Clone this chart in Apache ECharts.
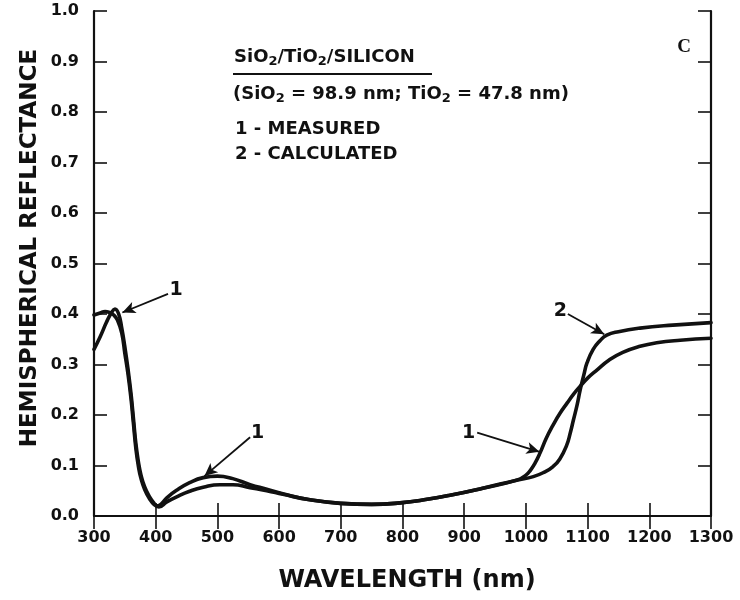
<!DOCTYPE html>
<html>
<head>
<meta charset="utf-8">
<script src="https://cdn.jsdelivr.net/npm/echarts@6/dist/echarts.min.js"></script>
<style>
  html, body { margin: 0; padding: 0; background: #fff; }
  #chart { width: 740px; height: 600px; }
</style>
</head>
<body>
<div id="chart"></div>
<script>
// Curve 1: measured hemispherical reflectance (wavelength in nm, reflectance fraction)
const measuredNm = [300, 310, 320, 328, 334, 340, 345, 350, 355, 360, 364, 368, 372, 376, 382, 390, 397, 403,
  410, 418, 434, 455, 477, 500, 525, 553, 580, 606, 650, 700, 750, 796, 840, 877, 930, 985,
  1000, 1007, 1015, 1023, 1033, 1044, 1055, 1067, 1077, 1088, 1100, 1115, 1135, 1157, 1185, 1212, 1250, 1300];
const measuredR = [0.330, 0.355, 0.383, 0.402, 0.410, 0.400, 0.372, 0.335, 0.292, 0.242, 0.192, 0.142, 0.107, 0.082, 0.058, 0.038, 0.026, 0.020,
  0.025, 0.036, 0.051, 0.066, 0.076, 0.079, 0.074, 0.062, 0.053, 0.044, 0.032, 0.025, 0.023, 0.026, 0.033, 0.041, 0.055, 0.071,
  0.081, 0.090, 0.105, 0.125, 0.154, 0.180, 0.203, 0.224, 0.241, 0.257, 0.273, 0.289, 0.309, 0.324, 0.336, 0.343, 0.348, 0.352];

// Curve 2: calculated reflectance for SiO2 (98.9 nm) / TiO2 (47.8 nm) on silicon
const calculatedNm = [300, 310, 318, 325, 332, 338, 345, 350, 355, 360, 364, 368, 372, 376, 382, 390, 398, 405,
  418, 434, 455, 477, 504, 525, 553, 580, 606, 650, 700, 750, 796, 840, 877, 930, 985,
  1012, 1030, 1044, 1055, 1066, 1072, 1077, 1083, 1088, 1094, 1099, 1109, 1120, 1131, 1150, 1185, 1238, 1300];
const calculatedR = [0.398, 0.402, 0.405, 0.403, 0.398, 0.388, 0.362, 0.322, 0.282, 0.232, 0.182, 0.132, 0.098, 0.075, 0.053, 0.034, 0.022, 0.018,
  0.028, 0.038, 0.049, 0.057, 0.062, 0.062, 0.056, 0.050, 0.043, 0.032, 0.025, 0.023, 0.026, 0.033, 0.041, 0.055, 0.071,
  0.078, 0.087, 0.098, 0.113, 0.140, 0.165, 0.190, 0.220, 0.250, 0.280, 0.303, 0.330, 0.347, 0.358, 0.365, 0.372, 0.378, 0.383];

const xMin = 300, xMax = 1300, xStep = 100;
const yMin = 0, yMax = 1, yStep = 0.1;

const SANS = '"DejaVu Sans", "Liberation Sans", Arial, sans-serif';
const INK = '#111';

function pairs(xs, ys) { return xs.map((x, i) => [x, ys[i]]); }

// pointer arrow from a label towards a curve, in data coordinates
function pointer(from, to) {
  return [
    { coord: from, symbol: 'none' },
    { coord: to, symbol: 'arrow', symbolSize: [9, 13] }
  ];
}
function tag(text, at) {
  return { coord: at, value: text, symbol: 'circle', symbolSize: 0,
    label: { show: true, position: 'inside', formatter: text,
      fontFamily: SANS, fontWeight: 'bold', fontSize: 19, color: INK } };
}

const chart = echarts.init(document.getElementById('chart'), null, { renderer: 'canvas' });

const tickStyle = { show: true, inside: true, length: 13, lineStyle: { color: INK, width: 1.6 } };
const lineStyle = { show: true, lineStyle: { color: INK, width: 2.2 } };

chart.setOption({
  animation: false,
  backgroundColor: '#fff',
  grid: { left: 94, right: 29, top: 11, bottom: 84, containLabel: false },
  xAxis: [
    { type: 'value', position: 'bottom', min: xMin, max: xMax, interval: xStep,
      axisLine: lineStyle, axisTick: tickStyle, splitLine: { show: false },
      axisLabel: { color: INK, fontFamily: SANS, fontWeight: 'bold', fontSize: 16, margin: 14,
        formatter: v => String(v) } },
    { type: 'value', position: 'top', min: xMin, max: xMax, interval: xStep,
      axisLine: lineStyle, axisTick: tickStyle, splitLine: { show: false },
      axisLabel: { show: false } }
  ],
  yAxis: [
    { type: 'value', position: 'left', min: yMin, max: yMax, interval: yStep,
      axisLine: lineStyle, axisTick: tickStyle, splitLine: { show: false },
      axisLabel: { color: INK, fontFamily: SANS, fontWeight: 'bold', fontSize: 16, margin: 15,
        formatter: v => v.toFixed(1) } },
    { type: 'value', position: 'right', min: yMin, max: yMax, interval: yStep,
      axisLine: lineStyle, axisTick: tickStyle, splitLine: { show: false },
      axisLabel: { show: false } }
  ],
  series: [
    {
      name: 'MEASURED', type: 'line', xAxisIndex: 0, yAxisIndex: 0,
      data: pairs(measuredNm, measuredR),
      showSymbol: false, smooth: 0.5,
      lineStyle: { color: INK, width: 3.6, join: 'round', cap: 'round' }, z: 3,
      markLine: {
        silent: true, animation: false,
        lineStyle: { color: INK, width: 1.8, type: 'solid' },
        label: { show: false },
        data: [
          pointer([420, 0.440], [346, 0.403]),
          pointer([553, 0.156], [479, 0.079]),
          pointer([921, 0.165], [1022, 0.127])
        ]
      },
      markPoint: {
        silent: true, animation: false,
        data: [tag('1', [433, 0.447]), tag('1', [565, 0.165]), tag('1', [907, 0.165])]
      }
    },
    {
      name: 'CALCULATED', type: 'line', xAxisIndex: 0, yAxisIndex: 0,
      data: pairs(calculatedNm, calculatedR),
      showSymbol: false, smooth: 0.5,
      lineStyle: { color: INK, width: 3.6, join: 'round', cap: 'round' }, z: 3,
      markLine: {
        silent: true, animation: false,
        lineStyle: { color: INK, width: 1.8, type: 'solid' },
        label: { show: false },
        data: [ pointer([1068, 0.400], [1127, 0.360]) ]
      },
      markPoint: {
        silent: true, animation: false,
        data: [tag('2', [1056, 0.405])]
      }
    }
  ],
  graphic: [
    { type: 'text', x: 30, y: 248, rotation: Math.PI / 2,
      style: { text: 'HEMISPHERICAL REFLECTANCE', fill: INK, fontFamily: SANS, fontWeight: 'bold', fontSize: 23,
        textAlign: 'center', textVerticalAlign: 'middle' } },
    { type: 'text', x: 407, y: 581,
      style: { text: 'WAVELENGTH (nm)', fill: INK, fontFamily: SANS, fontWeight: 'bold', fontSize: 24,
        textAlign: 'center', textVerticalAlign: 'middle' } },
    { type: 'text', x: 234, y: 57,
      style: { text: '{n|SiO}{s|2}{n|/TiO}{s|2}{n|/SILICON}', fill: INK, textAlign: 'left', textVerticalAlign: 'middle',
        rich: {
          n: { fontFamily: SANS, fontWeight: 'bold', fontSize: 18, fill: INK },
          s: { fontFamily: SANS, fontWeight: 'bold', fontSize: 13, fill: INK, padding: [9, 0, 0, 0] }
        } } },
    { type: 'line', shape: { x1: 233, y1: 74, x2: 432, y2: 74 }, style: { stroke: INK, lineWidth: 2 } },
    { type: 'text', x: 233, y: 94,
      style: { text: '{n|(SiO}{s|2}{n| = 98.9 nm; TiO}{s|2}{n| = 47.8 nm)}', fill: INK, textAlign: 'left', textVerticalAlign: 'middle',
        rich: {
          n: { fontFamily: SANS, fontWeight: 'bold', fontSize: 18, fill: INK },
          s: { fontFamily: SANS, fontWeight: 'bold', fontSize: 13, fill: INK, padding: [9, 0, 0, 0] }
        } } },
    { type: 'text', x: 235, y: 129,
      style: { text: '1 - MEASURED', fill: INK, fontFamily: SANS, fontWeight: 'bold', fontSize: 18,
        textAlign: 'left', textVerticalAlign: 'middle' } },
    { type: 'text', x: 235, y: 154,
      style: { text: '2 - CALCULATED', fill: INK, fontFamily: SANS, fontWeight: 'bold', fontSize: 18,
        textAlign: 'left', textVerticalAlign: 'middle' } },
    { type: 'text', x: 684, y: 47,
      style: { text: 'C', fill: INK, fontFamily: '"Liberation Serif", "DejaVu Serif", serif', fontWeight: 'bold', fontSize: 19,
        textAlign: 'center', textVerticalAlign: 'middle' } }
  ]
});
</script>
</body>
</html>
